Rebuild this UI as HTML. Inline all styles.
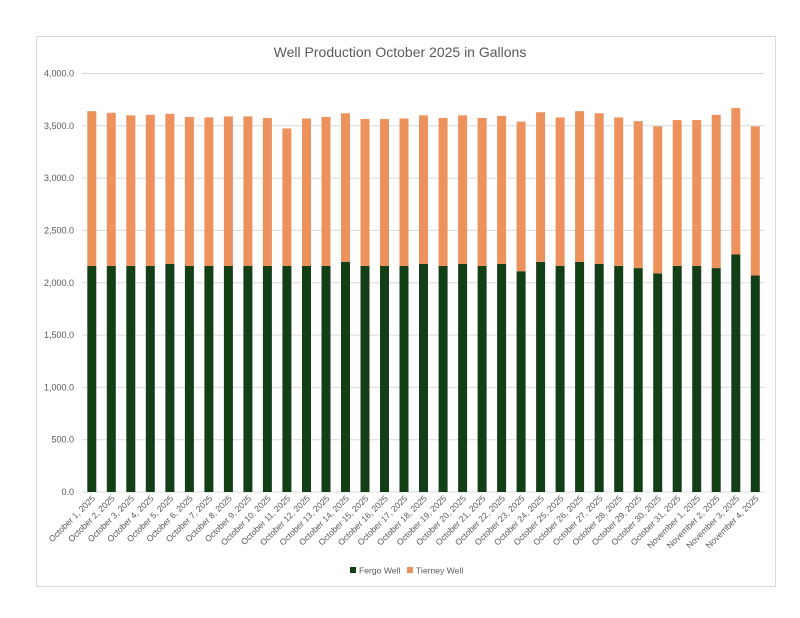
<!DOCTYPE html>
<html><head><meta charset="utf-8"><style>
body{margin:0;background:#fff;}
svg{display:block;font-family:"Liberation Sans",sans-serif;}
.yl{font-size:9px;fill:#595959;text-anchor:end;}
.xl{font-size:8.6px;fill:#595959;text-anchor:end;}
</style></head><body>
<svg width="800" height="618" xmlns="http://www.w3.org/2000/svg">
<rect x="36.5" y="36.5" width="739" height="550" fill="#fff" stroke="#d9d9d9"/>
<text x="400" y="57" text-anchor="middle" font-size="14" fill="#595959">Well Production October 2025 in Gallons</text>
<g stroke="#d9d9d9" stroke-width="1">
<line x1="82" x2="765" y1="439.7" y2="439.7"/><line x1="82" x2="765" y1="387.4" y2="387.4"/>
<line x1="82" x2="765" y1="335.1" y2="335.1"/><line x1="82" x2="765" y1="282.8" y2="282.8"/>
<line x1="82" x2="765" y1="230.4" y2="230.4"/><line x1="82" x2="765" y1="178.1" y2="178.1"/>
<line x1="82" x2="765" y1="125.8" y2="125.8"/><line x1="82" x2="765" y1="73.5" y2="73.5"/>
<line x1="82" x2="765" y1="492" y2="492"/>
</g>
<g class="yl">
<text x="74" y="495">0.0</text><text x="74" y="442.7">500.0</text><text x="74" y="390.4">1,000.0</text>
<text x="74" y="338.1">1,500.0</text><text x="74" y="285.8">2,000.0</text><text x="74" y="233.4">2,500.0</text>
<text x="74" y="181.1">3,000.0</text><text x="74" y="128.8">3,500.0</text><text x="74" y="76.5">4,000.0</text>
</g>
<g transform="translate(0,492) scale(1,-0.104625)">
<g fill="#133f16">
<rect x="87.3" y="0" width="9" height="2160"/><rect x="106.8" y="0" width="9" height="2160"/><rect x="126.3" y="0" width="9" height="2160"/><rect x="145.8" y="0" width="9" height="2160"/><rect x="165.4" y="0" width="9" height="2180"/>
<rect x="184.9" y="0" width="9" height="2160"/><rect x="204.4" y="0" width="9" height="2160"/><rect x="223.9" y="0" width="9" height="2160"/><rect x="243.4" y="0" width="9" height="2160"/><rect x="262.9" y="0" width="9" height="2160"/>
<rect x="282.4" y="0" width="9" height="2160"/><rect x="302" y="0" width="9" height="2160"/><rect x="321.5" y="0" width="9" height="2160"/><rect x="341" y="0" width="9" height="2200"/><rect x="360.5" y="0" width="9" height="2160"/>
<rect x="380" y="0" width="9" height="2160"/><rect x="399.5" y="0" width="9" height="2160"/><rect x="419" y="0" width="9" height="2180"/><rect x="438.6" y="0" width="9" height="2160"/><rect x="458.1" y="0" width="9" height="2180"/>
<rect x="477.6" y="0" width="9" height="2160"/><rect x="497.1" y="0" width="9" height="2180"/><rect x="516.6" y="0" width="9" height="2110"/><rect x="536.1" y="0" width="9" height="2200"/><rect x="555.6" y="0" width="9" height="2160"/>
<rect x="575.1" y="0" width="9" height="2200"/><rect x="594.7" y="0" width="9" height="2180"/><rect x="614.2" y="0" width="9" height="2160"/><rect x="633.7" y="0" width="9" height="2140"/><rect x="653.2" y="0" width="9" height="2090"/>
<rect x="672.7" y="0" width="9" height="2160"/><rect x="692.2" y="0" width="9" height="2160"/><rect x="711.7" y="0" width="9" height="2140"/><rect x="731.3" y="0" width="9" height="2270"/><rect x="750.8" y="0" width="9" height="2070"/>
</g>
<g fill="#ed925c">
<rect x="87.3" y="2160" width="9" height="1480"/><rect x="106.8" y="2160" width="9" height="1465"/><rect x="126.3" y="2160" width="9" height="1440"/><rect x="145.8" y="2160" width="9" height="1445"/><rect x="165.4" y="2180" width="9" height="1435"/>
<rect x="184.9" y="2160" width="9" height="1425"/><rect x="204.4" y="2160" width="9" height="1420"/><rect x="223.9" y="2160" width="9" height="1430"/><rect x="243.4" y="2160" width="9" height="1430"/><rect x="262.9" y="2160" width="9" height="1415"/>
<rect x="282.4" y="2160" width="9" height="1315"/><rect x="302" y="2160" width="9" height="1410"/><rect x="321.5" y="2160" width="9" height="1425"/><rect x="341" y="2200" width="9" height="1420"/><rect x="360.5" y="2160" width="9" height="1405"/>
<rect x="380" y="2160" width="9" height="1405"/><rect x="399.5" y="2160" width="9" height="1410"/><rect x="419" y="2180" width="9" height="1420"/><rect x="438.6" y="2160" width="9" height="1415"/><rect x="458.1" y="2180" width="9" height="1420"/>
<rect x="477.6" y="2160" width="9" height="1415"/><rect x="497.1" y="2180" width="9" height="1415"/><rect x="516.6" y="2110" width="9" height="1430"/><rect x="536.1" y="2200" width="9" height="1430"/><rect x="555.6" y="2160" width="9" height="1420"/>
<rect x="575.1" y="2200" width="9" height="1440"/><rect x="594.7" y="2180" width="9" height="1440"/><rect x="614.2" y="2160" width="9" height="1420"/><rect x="633.7" y="2140" width="9" height="1405"/><rect x="653.2" y="2090" width="9" height="1405"/>
<rect x="672.7" y="2160" width="9" height="1395"/><rect x="692.2" y="2160" width="9" height="1395"/><rect x="711.7" y="2140" width="9" height="1465"/><rect x="731.3" y="2270" width="9" height="1400"/><rect x="750.8" y="2070" width="9" height="1425"/>
</g>
</g>
<g class="xl">
<text transform="translate(95.8,499) rotate(-45)">October 1, 2025</text>
<text transform="translate(115.3,499) rotate(-45)">October 2, 2025</text>
<text transform="translate(134.8,499) rotate(-45)">October 3, 2025</text>
<text transform="translate(154.3,499) rotate(-45)">October 4, 2025</text>
<text transform="translate(173.9,499) rotate(-45)">October 5, 2025</text>
<text transform="translate(193.4,499) rotate(-45)">October 6, 2025</text>
<text transform="translate(212.9,499) rotate(-45)">October 7, 2025</text>
<text transform="translate(232.4,499) rotate(-45)">October 8, 2025</text>
<text transform="translate(251.9,499) rotate(-45)">October 9, 2025</text>
<text transform="translate(271.4,499) rotate(-45)">October 10, 2025</text>
<text transform="translate(290.9,499) rotate(-45)">October 11, 2025</text>
<text transform="translate(310.5,499) rotate(-45)">October 12, 2025</text>
<text transform="translate(330,499) rotate(-45)">October 13, 2025</text>
<text transform="translate(349.5,499) rotate(-45)">October 14, 2025</text>
<text transform="translate(369,499) rotate(-45)">October 15, 2025</text>
<text transform="translate(388.5,499) rotate(-45)">October 16, 2025</text>
<text transform="translate(408,499) rotate(-45)">October 17, 2025</text>
<text transform="translate(427.5,499) rotate(-45)">October 18, 2025</text>
<text transform="translate(447.1,499) rotate(-45)">October 19, 2025</text>
<text transform="translate(466.6,499) rotate(-45)">October 20, 2025</text>
<text transform="translate(486.1,499) rotate(-45)">October 21, 2025</text>
<text transform="translate(505.6,499) rotate(-45)">October 22, 2025</text>
<text transform="translate(525.1,499) rotate(-45)">October 23, 2025</text>
<text transform="translate(544.6,499) rotate(-45)">October 24, 2025</text>
<text transform="translate(564.1,499) rotate(-45)">October 25, 2025</text>
<text transform="translate(583.6,499) rotate(-45)">October 26, 2025</text>
<text transform="translate(603.2,499) rotate(-45)">October 27, 2025</text>
<text transform="translate(622.7,499) rotate(-45)">October 28, 2025</text>
<text transform="translate(642.2,499) rotate(-45)">October 29, 2025</text>
<text transform="translate(661.7,499) rotate(-45)">October 30, 2025</text>
<text transform="translate(681.2,499) rotate(-45)">October 31, 2025</text>
<text transform="translate(700.7,499) rotate(-45)">November 1, 2025</text>
<text transform="translate(720.2,499) rotate(-45)">November 2, 2025</text>
<text transform="translate(739.8,499) rotate(-45)">November 3, 2025</text>
<text transform="translate(759.3,499) rotate(-45)">November 4, 2025</text>
</g>
<rect x="350" y="567" width="6" height="6" fill="#133f16"/>
<text x="359" y="573.5" font-size="8.6" fill="#595959">Fergo Well</text>
<rect x="407" y="567" width="6" height="6" fill="#ed925c"/>
<text x="416" y="573.5" font-size="8.6" fill="#595959">Tierney Well</text>
</svg>
</body></html>
